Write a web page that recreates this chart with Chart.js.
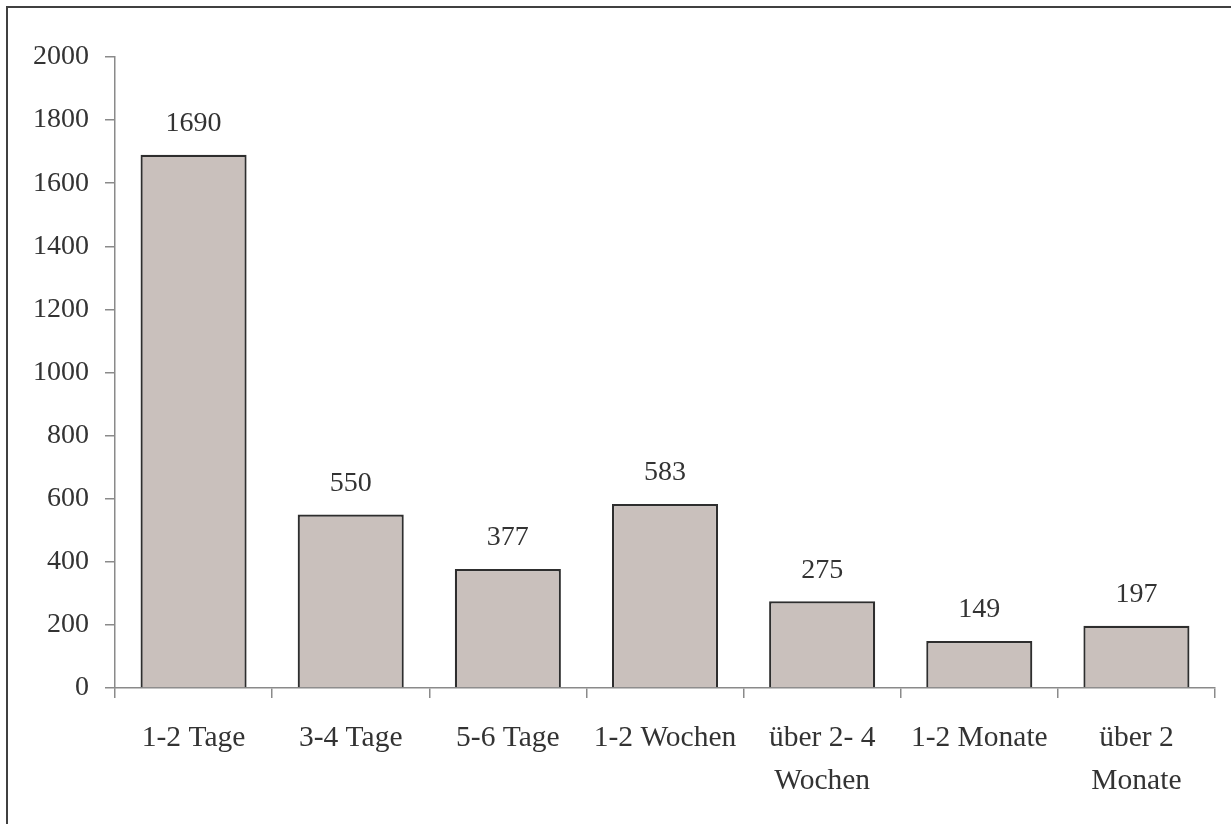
<!DOCTYPE html>
<html>
<head>
<meta charset="utf-8">
<script src="https://cdn.jsdelivr.net/npm/chart.js@4"></script>
<style>
  body { margin: 0; background: #fff; }
  canvas { display: block; }
</style>
</head>
<body>
<canvas id="myChart" width="1231" height="824"></canvas>
<script>
const categories = ['1-2 Tage', '3-4 Tage', '5-6 Tage', '1-2 Wochen', ['über 2- 4', 'Wochen'], '1-2 Monate', ['über 2', 'Monate']];
const values = [1690, 550, 377, 583, 275, 149, 197];
const yTicks = [0, 200, 400, 600, 800, 1000, 1200, 1400, 1600, 1800, 2000];

const textColor = '#333333';
const axisColor = '#8a8a8a';
const fontFamily = '"Liberation Serif", "Times New Roman", serif';
const fontSpec = { family: fontFamily, size: 28 };

// frame on top and left, like the cropped original
const framePlugin = {
  id: 'frame',
  beforeDraw(chart) {
    const ctx = chart.ctx;
    ctx.save();
    ctx.fillStyle = '#fff';
    ctx.fillRect(0, 0, chart.width, chart.height);
    ctx.strokeStyle = '#404040';
    ctx.lineWidth = 2;
    ctx.beginPath();
    ctx.moveTo(7, chart.height);
    ctx.lineTo(7, 7);
    ctx.lineTo(chart.width, 7);
    ctx.stroke();
    ctx.restore();
  }
};

// values above bars
const valueLabels = {
  id: 'valueLabels',
  afterDatasetsDraw(chart) {
    const ctx = chart.ctx;
    const meta = chart.getDatasetMeta(0);
    ctx.save();
    ctx.font = fontSpec.size + 'px ' + fontSpec.family;
    ctx.fillStyle = textColor;
    ctx.textAlign = 'center';
    ctx.textBaseline = 'middle';
    meta.data.forEach((bar, i) => {
      ctx.fillText(String(values[i]), bar.x, bar.y - 31);
    });
    ctx.restore();
  }
};

let ctx = document.getElementById('myChart').getContext('2d');
new Chart(ctx, {
  type: 'bar',
  data: {
    labels: categories,
    datasets: [{
      data: values,
      backgroundColor: '#c9c0bc',
      borderColor: '#2e2e2e',
      borderWidth: 2.2,
      categoryPercentage: 1,
      barPercentage: 0.675
    }]
  },
  options: {
    responsive: false,
    animation: false,
    layout: { padding: { top: 57, right: 16, left: 0, bottom: 0 } },
    plugins: { legend: { display: false }, tooltip: { enabled: false } },
    scales: {
      x: {
        grid: { offset: true, drawOnChartArea: false, drawTicks: true, tickLength: 10, color: axisColor, lineWidth: 1.5 },
        border: { display: true, color: axisColor, width: 1.5 },
        ticks: {
          color: textColor,
          font: { family: fontFamily, size: 29.5, lineHeight: 1.45 },
          padding: 19,
          autoSkip: false,
          maxRotation: 0,
          minRotation: 0
        },
        afterFit(scale) { scale.height = 136; }
      },
      y: {
        min: 0,
        max: 2000,
        afterBuildTicks(scale) { scale.ticks = yTicks.map(v => ({ value: v })); },
        grid: { drawOnChartArea: false, drawTicks: true, tickLength: 10, color: axisColor, lineWidth: 1.5 },
        border: { display: true, color: axisColor, width: 1.5 },
        ticks: {
          color: textColor,
          font: fontSpec,
          padding: 16,
          callback: v => String(v)
        },
        afterFit(scale) { scale.width = 115; }
      }
    }
  },
  plugins: [framePlugin, valueLabels]
});
</script>
</body>
</html>
